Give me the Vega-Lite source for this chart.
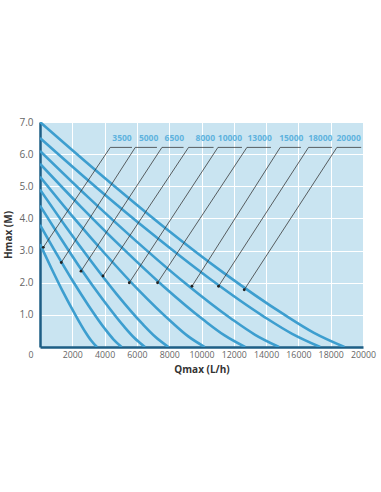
{
  "$schema": "https://vega.github.io/schema/vega-lite/v6.json",
  "autosize": "none",
  "width": 323,
  "height": 225,
  "padding": {"left": 40, "top": 122, "right": 18, "bottom": 145},
  "background": "white",
  "config": {
    "view": {"fill": "#c9e4f1", "stroke": null},
    "font": "Open Sans"
  },
  "datasets": {
    "curves": [
      {"model": "20000", "q": 0, "h": 7.0}, {"model": "20000", "q": 3770, "h": 5.36}, {"model": "20000", "q": 7540, "h": 3.79}, {"model": "20000", "q": 11310, "h": 2.33}, {"model": "20000", "q": 15080, "h": 1.02}, {"model": "20000", "q": 16965, "h": 0.44}, {"model": "20000", "q": 18850, "h": 0},
      {"model": "18000", "q": 0, "h": 6.5}, {"model": "18000", "q": 3470, "h": 4.97}, {"model": "18000", "q": 6940, "h": 3.52}, {"model": "18000", "q": 10410, "h": 2.16}, {"model": "18000", "q": 13880, "h": 0.94}, {"model": "18000", "q": 15615, "h": 0.41}, {"model": "18000", "q": 17350, "h": 0},
      {"model": "15000", "q": 0, "h": 6.1}, {"model": "15000", "q": 2960, "h": 4.67}, {"model": "15000", "q": 5920, "h": 3.31}, {"model": "15000", "q": 8880, "h": 2.03}, {"model": "15000", "q": 11840, "h": 0.88}, {"model": "15000", "q": 13320, "h": 0.38}, {"model": "15000", "q": 14800, "h": 0},
      {"model": "13000", "q": 0, "h": 5.7}, {"model": "13000", "q": 2540, "h": 4.36}, {"model": "13000", "q": 5080, "h": 3.09}, {"model": "13000", "q": 7620, "h": 1.9}, {"model": "13000", "q": 10160, "h": 0.83}, {"model": "13000", "q": 11430, "h": 0.36}, {"model": "13000", "q": 12700, "h": 0},
      {"model": "10000", "q": 0, "h": 5.3}, {"model": "10000", "q": 2040, "h": 4.05}, {"model": "10000", "q": 4080, "h": 2.87}, {"model": "10000", "q": 6120, "h": 1.76}, {"model": "10000", "q": 8160, "h": 0.77}, {"model": "10000", "q": 9180, "h": 0.33}, {"model": "10000", "q": 10200, "h": 0},
      {"model": "8000", "q": 0, "h": 4.9}, {"model": "8000", "q": 1590, "h": 3.75}, {"model": "8000", "q": 3180, "h": 2.66}, {"model": "8000", "q": 4770, "h": 1.63}, {"model": "8000", "q": 6360, "h": 0.71}, {"model": "8000", "q": 7155, "h": 0.31}, {"model": "8000", "q": 7950, "h": 0},
      {"model": "6500", "q": 0, "h": 4.4}, {"model": "6500", "q": 1300, "h": 3.37}, {"model": "6500", "q": 2600, "h": 2.38}, {"model": "6500", "q": 3900, "h": 1.47}, {"model": "6500", "q": 5200, "h": 0.64}, {"model": "6500", "q": 5850, "h": 0.28}, {"model": "6500", "q": 6500, "h": 0},
      {"model": "5000", "q": 0, "h": 3.8}, {"model": "5000", "q": 1010, "h": 2.91}, {"model": "5000", "q": 2020, "h": 2.06}, {"model": "5000", "q": 3030, "h": 1.27}, {"model": "5000", "q": 4040, "h": 0.55}, {"model": "5000", "q": 4545, "h": 0.24}, {"model": "5000", "q": 5050, "h": 0},
      {"model": "3500", "q": 0, "h": 3.2}, {"model": "3500", "q": 704, "h": 2.45}, {"model": "3500", "q": 1408, "h": 1.73}, {"model": "3500", "q": 2112, "h": 1.07}, {"model": "3500", "q": 2816, "h": 0.46}, {"model": "3500", "q": 3168, "h": 0.2}, {"model": "3500", "q": 3520, "h": 0}
    ],
    "leaders": [
      {"model": "3500", "o": 0, "q": 204, "h": 3.1}, {"model": "3500", "o": 1, "q": 4352, "h": 6.21}, {"model": "3500", "o": 2, "q": 5695, "h": 6.21},
      {"model": "5000", "o": 0, "q": 1318, "h": 2.63}, {"model": "5000", "o": 1, "q": 5899, "h": 6.21}, {"model": "5000", "o": 2, "q": 7242, "h": 6.21},
      {"model": "6500", "o": 0, "q": 2538, "h": 2.36}, {"model": "6500", "o": 1, "q": 7552, "h": 6.21}, {"model": "6500", "o": 2, "q": 8889, "h": 6.21},
      {"model": "8000", "o": 0, "q": 3900, "h": 2.21}, {"model": "8000", "o": 1, "q": 9198, "h": 6.21}, {"model": "8000", "o": 2, "q": 10746, "h": 6.21},
      {"model": "10000", "o": 0, "q": 5528, "h": 2.0}, {"model": "10000", "o": 1, "q": 11018, "h": 6.21}, {"model": "10000", "o": 2, "q": 12504, "h": 6.21},
      {"model": "13000", "o": 0, "q": 7280, "h": 2.0}, {"model": "13000", "o": 1, "q": 12813, "h": 6.21}, {"model": "13000", "o": 2, "q": 14299, "h": 6.21},
      {"model": "15000", "o": 0, "q": 9409, "h": 1.89}, {"model": "15000", "o": 1, "q": 14875, "h": 6.21}, {"model": "15000", "o": 2, "q": 16156, "h": 6.21},
      {"model": "18000", "o": 0, "q": 11055, "h": 1.89}, {"model": "18000", "o": 1, "q": 16626, "h": 6.21}, {"model": "18000", "o": 2, "q": 18075, "h": 6.21},
      {"model": "20000", "o": 0, "q": 12646, "h": 1.78}, {"model": "20000", "o": 1, "q": 18384, "h": 6.21}, {"model": "20000", "o": 2, "q": 19888, "h": 6.21}
    ],
    "labels": [
      {"model": "3500", "q": 5077, "h": 6.49},
      {"model": "5000", "q": 6725, "h": 6.49},
      {"model": "6500", "q": 8316, "h": 6.49},
      {"model": "8000", "q": 10235, "h": 6.49},
      {"model": "10000", "q": 11760, "h": 6.49},
      {"model": "13000", "q": 13600, "h": 6.49},
      {"model": "15000", "q": 15560, "h": 6.49},
      {"model": "18000", "q": 17356, "h": 6.49},
      {"model": "20000", "q": 19108, "h": 6.49}
    ]
  },
  "encoding": {
    "x": {
      "field": "q", "type": "quantitative",
      "scale": {"domain": [0, 20000], "nice": false},
      "axis": {
        "title": "Qmax (L/h)",
        "values": [0, 2000, 4000, 6000, 8000, 10000, 12000, 14000, 16000, 18000, 20000],
        "format": "d",
        "labelOverlap": false,
        "grid": true, "gridColor": "white", "gridWidth": 1,
        "ticks": false,
        "domain": true, "domainColor": "#1d5e85", "domainWidth": 2.5,
        "labelFont": "Open Sans", "labelFontSize": 8.8, "labelColor": "#666666",
        "labelPadding": 3,
        "labelAlign": {"condition": {"test": "datum.value === 0", "value": "right"}, "value": "center"},
        "labelOffset": {"condition": {"test": "datum.value === 0", "value": -7}, "value": 0},
        "titleFont": "Open Sans", "titleFontSize": 10, "titleFontWeight": "bold", "titleColor": "#333333",
        "titlePadding": 6
      }
    },
    "y": {
      "field": "h", "type": "quantitative",
      "scale": {"domain": [0, 7], "nice": false},
      "axis": {
        "title": "Hmax (M)",
        "values": [0, 1, 2, 3, 4, 5, 6, 7],
        "labelExpr": "datum.value === 0 ? '' : format(datum.value, '.1f')",
        "labelOverlap": false,
        "grid": true, "gridColor": "white", "gridWidth": 1,
        "ticks": false,
        "domain": true, "domainColor": "#1d5e85", "domainWidth": 2.5,
        "labelFont": "Open Sans", "labelFontSize": 10, "labelColor": "#666666",
        "labelPadding": 7,
        "titleFont": "Open Sans", "titleFontSize": 10, "titleFontWeight": "bold", "titleColor": "#333333",
        "titlePadding": 5
      }
    }
  },
  "layer": [
    {
      "data": {"name": "curves"},
      "mark": {"type": "line", "interpolate": "monotone", "color": "#3d9ecf", "strokeWidth": 2.6, "clip": true},
      "encoding": {
        "detail": {"field": "model", "type": "nominal"}
      }
    },
    {
      "data": {"name": "leaders"},
      "mark": {"type": "line", "color": "#3a3a3a", "strokeWidth": 0.8},
      "encoding": {
        "detail": {"field": "model", "type": "nominal"},
        "order": {"field": "o", "type": "quantitative"}
      }
    },
    {
      "data": {"name": "leaders"},
      "transform": [{"filter": "datum.o === 0"}],
      "mark": {"type": "point", "filled": true, "color": "#222222", "size": 8, "opacity": 1},
      "encoding": {}
    },
    {
      "data": {"name": "labels"},
      "mark": {"type": "text", "font": "Open Sans", "fontSize": 8.5, "fontWeight": "bold", "color": "#5fb3de", "baseline": "middle", "align": "center"},
      "encoding": {
        "text": {"field": "model", "type": "nominal"}
      }
    }
  ]
}
